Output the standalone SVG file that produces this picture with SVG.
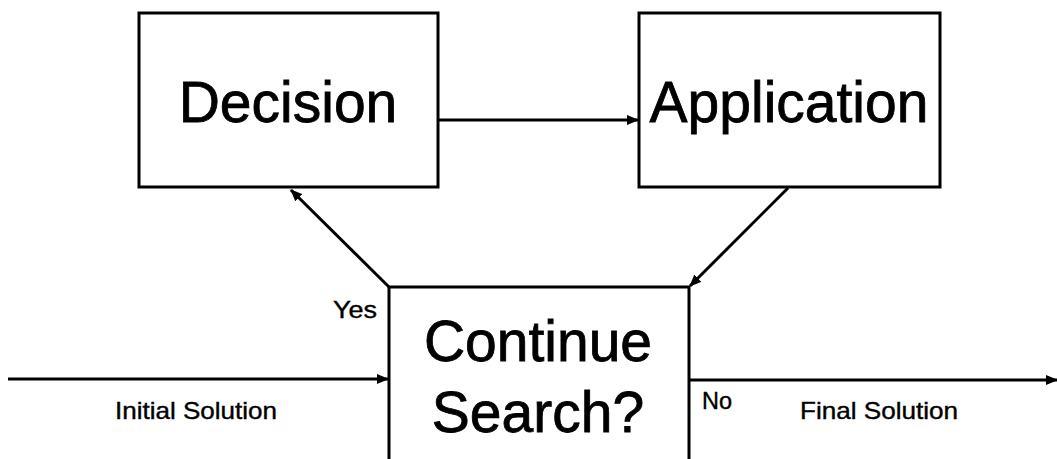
<svg xmlns="http://www.w3.org/2000/svg" width="1057" height="459" viewBox="0 0 1057 459">
  <style>
    .box { fill: #ffffff; stroke: #000000; stroke-width: 3; }
    .edge { fill: none; stroke: #000000; stroke-width: 3; }
    .big { font-family: "Liberation Sans", Arial, sans-serif; font-size: 57px; fill: #000000; stroke: #000000; stroke-width: 0.8; text-anchor: middle; }
    .small { font-family: "Liberation Sans", Arial, sans-serif; font-size: 24px; fill: #000000; stroke: #000000; stroke-width: 0.4; }
  </style>
  <defs>
    <marker id="arrow" markerWidth="12" markerHeight="10" refX="11" refY="5" orient="auto" markerUnits="userSpaceOnUse">
      <path d="M0,0 L12,5 L0,10 Z" fill="#000000"/>
    </marker>
  </defs>
  <rect width="1057" height="459" fill="#ffffff"/>

  <g id="connectors">
    <line class="edge" x1="438" y1="120" x2="638" y2="120" marker-end="url(#arrow)"/>
    <line class="edge" x1="389" y1="287" x2="291" y2="190" marker-end="url(#arrow)"/>
    <line class="edge" x1="788" y1="188" x2="690" y2="286" marker-end="url(#arrow)"/>
    <line class="edge" x1="8" y1="379" x2="388" y2="379" marker-end="url(#arrow)"/>
    <line class="edge" x1="689" y1="380" x2="1057" y2="380" marker-end="url(#arrow)"/>
  </g>

  <g id="decision">
    <rect class="box" x="139" y="13" width="299" height="174"/>
    <text class="big" x="288" y="122">Decision</text>
  </g>

  <g id="application">
    <rect class="box" x="639" y="13" width="301" height="174"/>
    <text class="big" x="789" y="122">Application</text>
  </g>

  <g id="continue-search">
    <rect class="box" x="389" y="287" width="300" height="190"/>
    <text class="big" x="538" y="361">Continue</text>
    <text class="big" x="538" y="432">Search?</text>
  </g>

  <g id="labels">
    <text class="small" x="333" y="318" textLength="44" lengthAdjust="spacingAndGlyphs">Yes</text>
    <text class="small" x="702" y="409" textLength="30" lengthAdjust="spacingAndGlyphs">No</text>
    <text class="small" x="115" y="419" textLength="162" lengthAdjust="spacingAndGlyphs">Initial Solution</text>
    <text class="small" x="800" y="419" textLength="158" lengthAdjust="spacingAndGlyphs">Final Solution</text>
  </g>
</svg>
